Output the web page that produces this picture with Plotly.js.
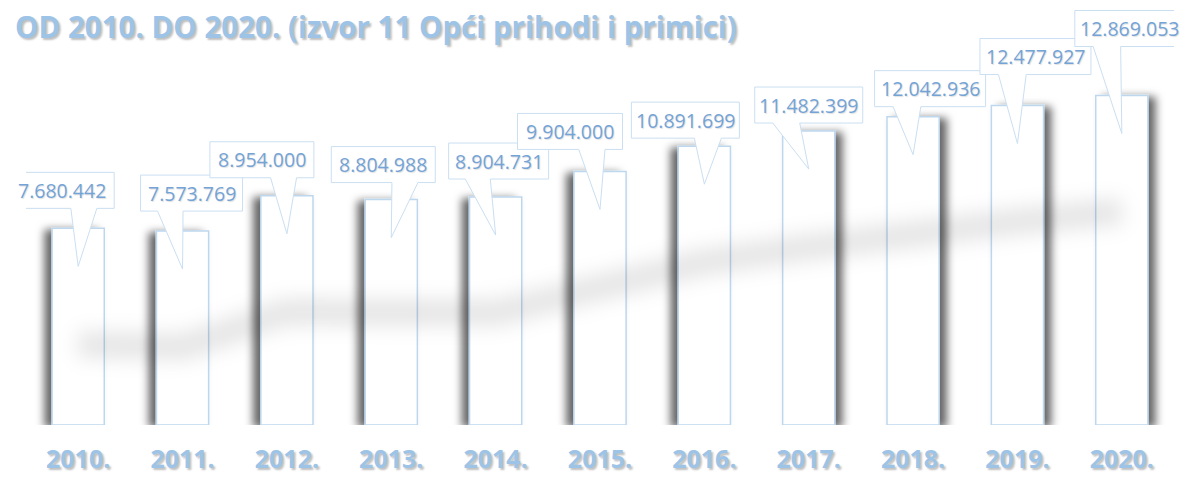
<!DOCTYPE html>
<html>
<head>
<meta charset="utf-8">
<script src="https://cdn.plot.ly/plotly-3.0.1.min.js"></script>
<style>
  html, body { margin: 0; padding: 0; background: #ffffff; }
  #chart { width: 1180px; height: 477px; }
</style>
</head>
<body>
<div id="chart"></div>
<script>
// ---- data ----
const categories = ['2010.', '2011.', '2012.', '2013.', '2014.', '2015.', '2016.', '2017.', '2018.', '2019.', '2020.'];
const values = [7680442, 7573769, 8954000, 8804988, 8904731, 9904000, 10891699, 11482399, 12042936, 12477927, 12869053];
const chartTitle = 'OD 2010. DO 2020. (izvor 11 Opći prihodi i primici)';

// ---- label callout placement (pixels, relative to bar top centre) ----
const labelDx = [-16, 9, -25, -8, 3, -30, -19, 0, 17, 18, 8];
const labelDy = [38, 38, 36, 35, 36, 40, 26, 26, 28, 49, 67];
const labelW  = [104, 102, 104, 104, 100, 105, 108, 108, 111, 111, 110];
const labelH = 36;
const tipDepth = 38;

// ---- styles ----
const lightBlue = '#9DC3E6';
const labelBlue = '#74A3D6';
const outlineBlue = '#BDD7EE';
const calloutLine = '#CADFF2';
const yMax = 16.6e6;
const pxPerUnit = 425 / yMax;
const glowShiftPx = 116;

function fmt(v) {
  const s = String(Math.round(v));
  return s.replace(/\B(?=(\d{3})+(?!\d))/g, '.');
}

const barTrace = {
  type: 'bar',
  x: categories,
  y: values,
  marker: { color: '#ffffff', line: { color: outlineBlue, width: 1.5 } },
  hoverinfo: 'skip',
  showlegend: false
};

const glowTrace = {
  type: 'scatter',
  mode: 'lines',
  x: categories,
  y: values,
  yaxis: 'y2',
  line: { color: 'rgba(0,0,0,0.10)', width: 26 },
  hoverinfo: 'skip',
  showlegend: false
};

const shapes = [];
const annotations = [];
categories.forEach((c, i) => {
  const w = labelW[i];
  const xl = labelDx[i] - w / 2;
  const xr = labelDx[i] + w / 2;
  const yt = labelDy[i] + labelH / 2;
  const yb = labelDy[i] - labelH / 2;
  let b1, b2;
  if (labelDx[i] < 0) { b1 = xl + w * 7 / 12; b2 = xl + w * 10 / 12; }
  else { b1 = xl + w * 2 / 12; b2 = xl + w * 5 / 12; }
  const path = `M${xl},${yt} L${xr},${yt} L${xr},${yb} L${b2},${yb} L0,${-tipDepth} L${b1},${yb} L${xl},${yb} Z`;
  shapes.push({
    type: 'path',
    xref: 'x', yref: 'y',
    xsizemode: 'pixel', ysizemode: 'pixel',
    xanchor: i, yanchor: values[i],
    path: path,
    fillcolor: '#ffffff',
    line: { color: calloutLine, width: 1 },
    layer: 'above'
  });
  annotations.push({
    x: i, y: values[i], xref: 'x', yref: 'y',
    xshift: labelDx[i], yshift: labelDy[i],
    text: fmt(values[i]),
    showarrow: false,
    xanchor: 'center', yanchor: 'middle',
    font: { family: 'Open Sans, sans-serif', size: 19.5, color: labelBlue, shadow: '1px 1px 1px rgba(0,0,0,0.12)' }
  });
});

const glowShift = glowShiftPx / pxPerUnit;

const layout = {
  width: 1180,
  height: 477,
  margin: { l: 26, r: 6, t: 0, b: 52 },
  paper_bgcolor: '#ffffff',
  plot_bgcolor: '#ffffff',
  bargap: 0.5,
  showlegend: false,
  title: {
    text: chartTitle,
    x: 15 / 1180, xanchor: 'left', xref: 'container',
    y: 1 - 28 / 477, yanchor: 'middle', yref: 'container',
    font: { family: 'Open Sans, sans-serif', size: 29.5, weight: 700, color: lightBlue, shadow: '2px 2px 2px rgba(0,0,0,0.25)' }
  },
  xaxis: {
    type: 'category',
    categoryorder: 'array', categoryarray: categories,
    range: [-0.5, categories.length - 0.5], autorange: false,
    showgrid: false, zeroline: false, showline: false, ticks: '',
    ticklabelstandoff: 17,
    tickfont: { family: 'Open Sans, sans-serif', size: 25, weight: 700, color: lightBlue, shadow: '2px 2px 2px rgba(0,0,0,0.25)' }
  },
  yaxis: {
    range: [0, yMax], autorange: false,
    showgrid: false, zeroline: false, showline: false, showticklabels: false, ticks: ''
  },
  yaxis2: {
    overlaying: 'y',
    range: [glowShift, yMax + glowShift], autorange: false,
    showgrid: false, zeroline: false, showline: false, showticklabels: false, ticks: ''
  },
  shapes: shapes,
  annotations: annotations
};

Plotly.newPlot('chart', [barTrace, glowTrace], layout, { staticPlot: true, displayModeBar: false }).then(gd => {
  const NS = 'http://www.w3.org/2000/svg';
  const svg = gd.querySelector('svg.main-svg');
  let defs = svg.querySelector('defs');
  if (!defs) { defs = document.createElementNS(NS, 'defs'); svg.insertBefore(defs, svg.firstChild); }
  function addShadow(id, dx) {
    const f = document.createElementNS(NS, 'filter');
    f.setAttribute('id', id);
    f.setAttribute('x', '-60%'); f.setAttribute('y', '-20%');
    f.setAttribute('width', '220%'); f.setAttribute('height', '140%');
    const ds = document.createElementNS(NS, 'feDropShadow');
    ds.setAttribute('dx', dx); ds.setAttribute('dy', 2);
    ds.setAttribute('stdDeviation', 4);
    ds.setAttribute('flood-color', '#000');
    ds.setAttribute('flood-opacity', 0.6);
    f.appendChild(ds);
    defs.appendChild(f);
  }
  addShadow('shL', -7);
  addShadow('shR', 7);
  const blur = document.createElementNS(NS, 'filter');
  blur.setAttribute('id', 'glowBlur');
  blur.setAttribute('x', '-20%'); blur.setAttribute('y', '-100%');
  blur.setAttribute('width', '140%'); blur.setAttribute('height', '300%');
  const gb = document.createElementNS(NS, 'feGaussianBlur');
  gb.setAttribute('stdDeviation', 10);
  blur.appendChild(gb);
  defs.appendChild(blur);

  const barPaths = gd.querySelectorAll('.barlayer .trace .point path');
  barPaths.forEach((p, i) => {
    p.setAttribute('filter', i <= 6 ? 'url(#shL)' : 'url(#shR)');
  });
  gd.querySelectorAll('.scatterlayer .trace .js-line').forEach(p => {
    p.setAttribute('filter', 'url(#glowBlur)');
  });
});
</script>
</body>
</html>
